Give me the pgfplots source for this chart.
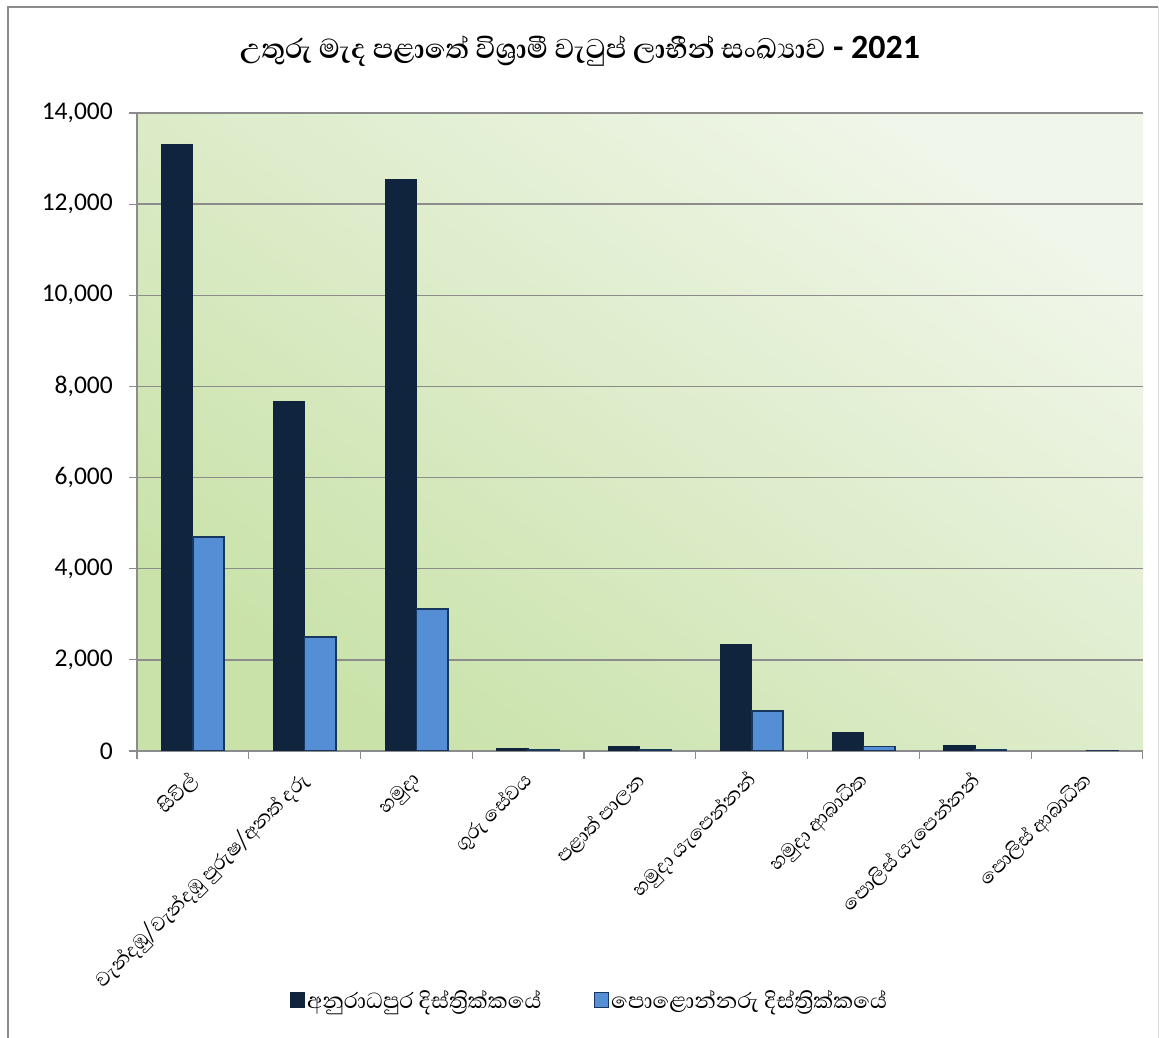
\documentclass[border=0pt]{standalone}
\usepackage{fontspec}
\setmainfont{Carlito}
\newfontfamily\sinhf[Script=Sinhala]{Abhaya Libre}
\usepackage{pgfplots}
\pgfplotsset{compat=1.18}
\usepackage{pgfplotstable}
\pgfplotsset{sqlegend/.style={legend image code/.code={\draw[##1] (0bp,-7.5bp) rectangle (14bp,7.5bp);}}}
\definecolor{anu}{HTML}{10243E}
\definecolor{pol}{HTML}{558ED5}
\definecolor{poledge}{HTML}{17375E}
\definecolor{bgA}{HTML}{C9E2A9}
\definecolor{bgB}{HTML}{F0F6E9}
\definecolor{gridc}{HTML}{8C8C8C}
\pgfplotstableread{
idx anu pol
0 13310 4700
1 7660 2500
2 12550 3110
3 44 22
4 96 22
5 2330 880
6 404 96
7 125 37
8 0 15
}\datatable
\begin{document}
\begin{tikzpicture}
\useasboundingbox (0,0) rectangle (1159bp,1038bp);
\draw[gridc, line width=1.2bp] (8bp,0) -- (8bp,1031bp) -- (1158bp,1031bp);
\draw[gray!30, line width=1bp] (1158bp,1031bp) -- (1158bp,0);
\begin{scope}[transform canvas={scale=8}]
\shade[top color=bgB, bottom color=bgA, shading angle=-35] (17.125bp,35.875bp) rectangle (142.875bp,115.625bp);
\end{scope}
\node[font=\fontsize{34bp}{40bp}\selectfont] at (580bp,987bp) {{\sinhf\fontsize{35bp}{40bp}\selectfont\bfseries උතුරු මැද පළාතේ විශ්^^^^200dරාමී වැටුප් ලාභීන් සංඛ්^^^^200dයාව} \textbf{- 2021}};
\begin{axis}[
  at={(137bp,287bp)}, anchor=south west,
  scale only axis, width=1006bp, height=638bp,
  xmin=-0.5, xmax=8.5, ymin=0, ymax=14000,
  axis x line*=bottom, axis y line*=left,
  axis line style={draw=gridc, line width=1.2bp},
  ymajorgrids, major grid style={draw=gridc, line width=1.4bp},
  ytick={0,2000,4000,6000,8000,10000,12000,14000},
  scaled y ticks=false,
  tick align=outside, major tick length=8bp, minor tick length=8bp,
  tick style={draw=gridc, line width=1.2bp},
  xtick={0,1,2,3,4,5,6,7,8},
  major x tick style={draw=none},
  minor xtick={-0.5,0.5,1.5,2.5,3.5,4.5,5.5,6.5,7.5,8.5},
  xticklabels={සිවිල්, වැන්දඹු/වැන්දඹු පුරුෂ/අනත් දරු, හමුදා, ගුරු සේවය, පළාත් පාලන, හමුදා යැපෙන්නන්, හමුදා ආබාධිත, පොලිස් යැපෙන්නන්, පොලිස් ආබාධිත},
  xticklabel style={font=\sinhf\fontsize{25bp}{29bp}\selectfont, yshift=-17bp, xshift=3bp, rotate=45, anchor=east, inner sep=2bp},
  yticklabel style={font=\fontsize{25.5bp}{30bp}\selectfont, inner sep=0pt, xshift=-16bp},
  /pgf/number format/1000 sep={,}, /pgf/number format/assume math mode=true,
  ybar, bar width=31.3bp,
  legend columns=2,
  legend style={at={(0.45,-0.39)}, anchor=center, draw=none, fill=none,
    font=\sinhf\fontsize{28bp}{32bp}\selectfont,
    /tikz/every even column/.append style={column sep=50bp}},
]
\addplot[fill=anu, draw=anu, line width=1bp, bar shift=-15.65bp, sqlegend] table[x=idx, y=anu] {\datatable};
\addplot[fill=pol, draw=poledge, line width=1.6bp, bar shift=15.65bp, sqlegend] table[x=idx, y=pol] {\datatable};
\legend{අනුරාධපුර දිස්ත්^^^^200dරික්කයේ, පොළොන්නරු දිස්ත්^^^^200dරික්කයේ}
\end{axis}
\end{tikzpicture}
\end{document}
